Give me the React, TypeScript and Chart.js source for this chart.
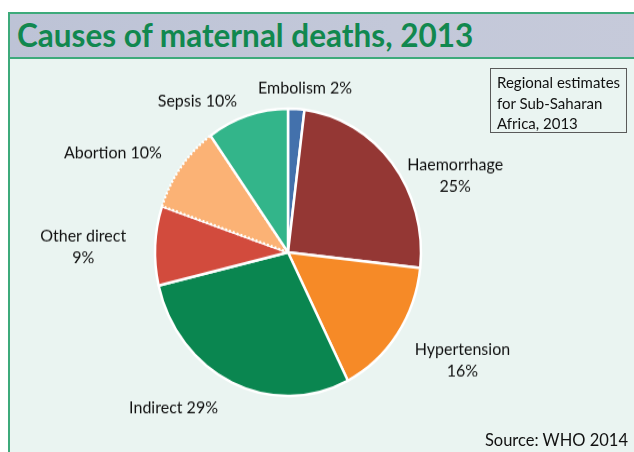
import React, { useEffect, useRef } from 'react';
import { Chart, registerables } from 'chart.js';

Chart.register(...registerables);

// ---- data ----
const causes = ['Embolism', 'Haemorrhage', 'Hypertension', 'Indirect', 'Other direct', 'Abortion', 'Sepsis'];
const shares = [2, 25, 16, 29, 9, 10, 10];
const wrapLabel = [false, true, true, false, true, false, false];
const sliceColors = ['#4371AC', '#943734', '#F68A27', '#0A8650', '#D24B3D', '#FBB275', '#33B58A'];
const titleText = 'Causes of maternal deaths, 2013';
const noteLines = ['Regional estimates', 'for Sub-Saharan', 'Africa, 2013'];
const sourceText = 'Source: WHO 2014';

// ---- layout / style ----
const STRETCH = 1.08;
const CANVAS_W = 624;
const CANVAS_H = 364;
const RADIUS = 133;
const GAP = 14;
const LABEL_FONT = 16;
const LINE_H = 20;
const labelNudge = [
  [8, 5],
  [4, 20],
  [6, 16],
  [-8, 1],
  [-15, 2],
  [-8, -5],
  [-6, 10],
];

const labelTextFor = (i: number): string[] => {
  const pct = `${shares[i]}%`;
  return wrapLabel[i] ? [causes[i], pct] : [`${causes[i]} ${pct}`];
};

const sliceLabelPlugin = {
  id: 'sliceLabels',
  afterDatasetsDraw(chart: any) {
    const ctx = chart.ctx as CanvasRenderingContext2D;
    const meta = chart.getDatasetMeta(0);
    ctx.save();
    ctx.font = `${LABEL_FONT}px Lato, "Open Sans", sans-serif`;
    ctx.fillStyle = '#111111';
    ctx.textBaseline = 'middle';
    ctx.textAlign = 'center';
    meta.data.forEach((arc: any, i: number) => {
      const p = arc.getProps(['x', 'y', 'startAngle', 'endAngle', 'outerRadius'], true);
      const mid = (p.startAngle + p.endAngle) / 2;
      const d = p.outerRadius + GAP;
      const c = Math.cos(mid);
      const s = Math.sin(mid);
      const ax = p.x + c * d;
      const ay = p.y + s * d;
      const lines = labelTextFor(i);
      const w = Math.max(...lines.map((l) => ctx.measureText(l).width));
      const h = lines.length * LINE_H;
      let left = c > 0.25 ? ax : c < -0.25 ? ax - w : ax - w / 2;
      let cy = s < -0.85 ? ay - h / 2 : s > 0.85 ? ay + h / 2 : ay;
      left += labelNudge[i][0];
      cy += labelNudge[i][1];
      lines.forEach((l, k) => {
        ctx.fillText(l, left + w / 2, cy - h / 2 + LINE_H * (k + 0.5));
      });
    });
    ctx.restore();
  },
};

export default function App() {
  const canvasRef = useRef<HTMLCanvasElement | null>(null);

  useEffect(() => {
    if (!canvasRef.current) return;
    const cx = 278;
    const cy = 179;
    const half = 140;
    const chart = new Chart(canvasRef.current, {
      type: 'pie',
      data: {
        labels: causes,
        datasets: [
          {
            data: shares,
            backgroundColor: sliceColors,
            borderColor: '#ffffff',
            borderWidth: 2.5,
            radius: RADIUS,
            borderDash: ((c: any) => (c.dataIndex === 5 ? [2, 2] : [])) as any,
          } as any,
        ],
      },
      options: {
        responsive: false,
        maintainAspectRatio: false,
        devicePixelRatio: 1,
        animation: false,
        events: [],
        layout: {
          padding: {
            left: cx - half,
            right: CANVAS_W - cx - half,
            top: cy - half,
            bottom: CANVAS_H - cy - half,
          },
        },
        plugins: {
          legend: { display: false },
          tooltip: { enabled: false },
          title: { display: false },
        },
      },
      plugins: [sliceLabelPlugin],
    });
    return () => chart.destroy();
  }, []);

  return (
    <div
      style={{
        position: 'absolute',
        left: 0,
        top: 0,
        width: 634,
        height: 452,
        overflow: 'hidden',
        background: '#ffffff',
        fontFamily: 'Lato, "Open Sans", sans-serif',
      }}
    >
      {/* frame */}
      <div
        style={{
          position: 'absolute',
          left: 8,
          top: 12,
          width: 640,
          height: 460,
          borderLeft: '2px solid #3DAA7B',
          borderTop: '2px solid #3DAA7B',
          background: '#EAF4F1',
          boxSizing: 'border-box',
        }}
      />
      {/* title bar */}
      <div
        style={{
          position: 'absolute',
          left: 10,
          top: 14,
          width: 640,
          height: 43,
          background: 'linear-gradient(90deg, #BDC3D6 0%, #C3C8D9 60%, #C6CADA 100%)',
          borderBottom: '2px solid #3DAA7B',
        }}
      />
      <div
        style={{
          position: 'absolute',
          left: 17,
          top: 13,
          height: 44,
          lineHeight: '44px',
          fontSize: 31.5,
          fontWeight: 700,
          color: '#11884F',
          whiteSpace: 'nowrap',
        }}
      >
        {titleText}
      </div>
      <canvas
        ref={canvasRef}
        width={CANVAS_W}
        height={CANVAS_H}
        style={{
          position: 'absolute',
          left: 10,
          top: 59,
          transform: `scaleY(${STRETCH})`,
          transformOrigin: 'top left',
        }}
      />
      {/* note box */}
      <div
        style={{
          position: 'absolute',
          left: 490,
          top: 68,
          width: 137,
          height: 65,
          border: '1px solid #5A5A5A',
          boxSizing: 'border-box',
          padding: '3px 0 0 6px',
          fontSize: 15,
          lineHeight: '20.5px',
          color: '#111111',
          whiteSpace: 'nowrap',
        }}
      >
        {noteLines.map((l) => (
          <div key={l}>{l}</div>
        ))}
      </div>
      {/* source */}
      <div
        style={{
          position: 'absolute',
          left: 380,
          top: 428,
          width: 248,
          textAlign: 'right',
          fontSize: 16.5,
          lineHeight: '24px',
          color: '#111111',
          whiteSpace: 'nowrap',
        }}
      >
        {sourceText}
      </div>
    </div>
  );
}
